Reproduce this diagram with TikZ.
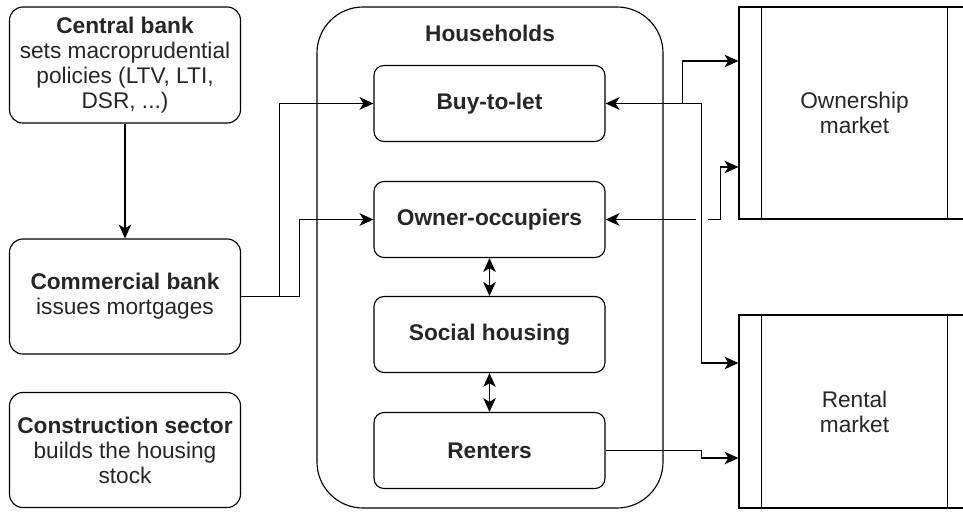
\documentclass[tikz,border=0pt]{standalone}
\usepackage{fontspec}
\setmainfont{Liberation Sans}
\usetikzlibrary{arrows.meta,calc}
\begin{document}
\begin{tikzpicture}[x=0.75pt,y=-0.75pt,
  line width=0.85pt,
  txt/.style={text=black!85, font=\fontsize{17}{18.75}\selectfont, align=center},
  agent/.style={draw, rounded corners=10pt, minimum width=173.25pt, minimum height=86.25pt, inner sep=0pt, txt},
  group/.style={draw, rounded corners=34.5pt, minimum width=259.5pt, minimum height=375.75pt, inner sep=0pt},
  hbox/.style={draw, rounded corners=7.5pt, minimum width=173.25pt, minimum height=57pt, inner sep=0pt, txt,
    font=\fontsize{17}{18.75}\selectfont\bfseries},
  market/.style={draw, minimum width=173.25pt, inner sep=0pt, txt},
  tip/.tip={Stealth[length=10.5pt,width=9.5pt,inset=3pt]},
  arr/.style={-tip},
  darr/.style={tip-tip},
]
\useasboundingbox (0,0) rectangle (963,511);
\clip (0,0) rectangle (963,511);

% agents on the left
\node[agent, minimum height=87pt] (cb) at (125,65)
  {\textbf{Central bank}\\sets macroprudential\\policies (LTV, LTI,\\DSR, ...)};
\node[agent] (comb) at (125,296.5) {\textbf{Commercial bank}\\issues mortgages};
\node[agent] (cons) at (125,450) {\textbf{Construction sector}\\builds the housing\\stock};

% households and their tenure types
\node[group] (hh) at (490,257.5) {};
\node[txt, font=\fontsize{17}{18.75}\selectfont\bfseries] (hhl) at (490,33) {Households};
\node[hbox] (btl) at (489.5,103.5) {Buy-to-let};
\node[hbox] (oo) at (489.5,219.5) {Owner-occupiers};
\node[hbox] (sh) at (489.5,334.5) {Social housing};
\node[hbox] (rt) at (489.5,450.5) {Renters};

% housing markets
\node[market, minimum height=159pt] (own) at (854.5,113) {Ownership\\market};
\node[market, minimum height=144.75pt] (rmk) at (854.5,411.5) {Rental\\market};
\foreach \m in {own,rmk}{
  \draw ([xshift=17.25pt]\m.north west) -- ([xshift=17.25pt]\m.south west);
  \draw ([xshift=-17.25pt]\m.north east) -- ([xshift=-17.25pt]\m.south east);
}

% connectors
\draw[arr] (cb) -- (comb);
\draw[arr] (comb.east) -- ++(38.5,0) |- (btl.west);
\draw[arr] (comb.east) -- ++(58,0) |- (oo.west);
\draw[darr] (oo.south) -- (sh.north);
\draw[darr] (sh.south) -- (rt.north);

\draw[darr] (btl.east) -- ++(76.5,0) |- (own.west |- 0,61);
\draw[darr] (oo.east) -- ++(115,0) |- (own.west |- 0,167);
% line jump where the buy-to-let line crosses
\path (oo.east) -- ++(96,0) coordinate (jump);
\draw[white, line width=3pt] ([xshift=-4.5pt]jump) -- ([xshift=4.5pt]jump);
\draw[arr] (btl.east) -- ++(96,0) |- (rmk.west |- 0,363);
\draw[arr] (rt.east) -- ++(96,0) |- (rmk.west |- 0,458);
\end{tikzpicture}
\end{document}
